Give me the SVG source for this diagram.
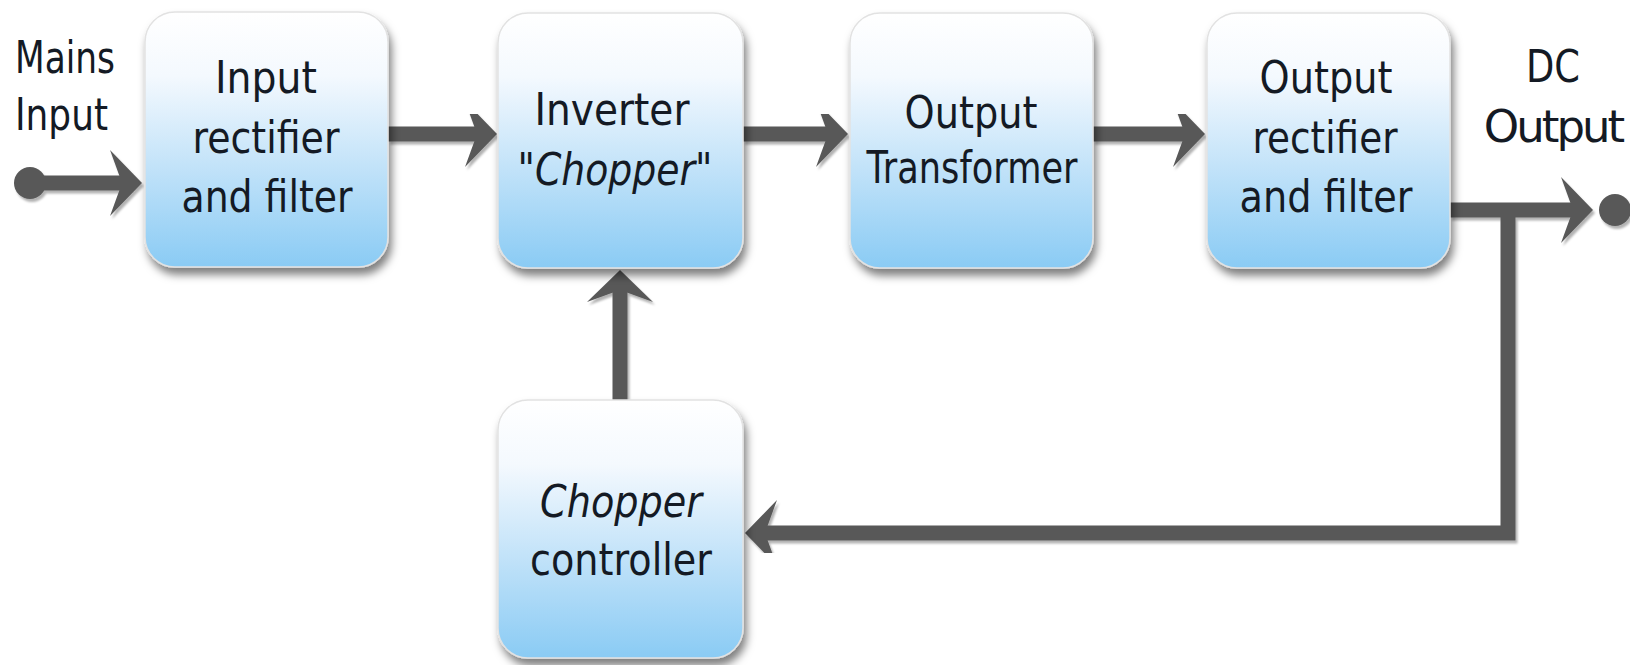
<svg xmlns="http://www.w3.org/2000/svg" width="1630" height="665" viewBox="0 0 1630 665">
  <defs>
    <linearGradient id="boxGrad" x1="0" y1="0" x2="0" y2="1">
      <stop offset="0" stop-color="#ffffff"/>
      <stop offset="0.25" stop-color="#f4f9fe"/>
      <stop offset="0.6" stop-color="#c3e3f9"/>
      <stop offset="1" stop-color="#8acbf4"/>
    </linearGradient>
    <filter id="boxShadow" x="-10%" y="-10%" width="125%" height="125%">
      <feDropShadow dx="3" dy="7" stdDeviation="4" flood-color="#000" flood-opacity="0.5"/>
    </filter>
    <filter id="lineShadow" x="-5%" y="-5%" width="110%" height="110%">
      <feDropShadow dx="2" dy="3" stdDeviation="1.2" flood-color="#000" flood-opacity="0.3"/>
    </filter>
    <marker id="head" markerUnits="userSpaceOnUse" viewBox="-34 -35 36 70" markerWidth="36" markerHeight="70" refX="-18" refY="0" orient="auto">
      <path d="M0,0 L-32,-33 L-20,0 L-32,33 Z" fill="#595959"/>
    </marker>
  </defs>
  <style>
    .box { fill: url(#boxGrad); stroke: #e2e2e2; stroke-width: 1.5; filter: url(#boxShadow); }
    .lbl { font-family: "DejaVu Sans", "Liberation Sans", sans-serif; font-size: 45px; fill: #141a24; text-anchor: middle; }
    .it { font-style: italic; }
    .side { text-anchor: start; }
    .wire { fill: none; stroke: #595959; stroke-width: 15; }
    .dot { fill: #595959; }
  </style>

  <g id="connectors" filter="url(#lineShadow)">
    <circle class="dot" cx="30" cy="183" r="16"/>
    <line class="wire" x1="30" y1="183" x2="124" y2="183" marker-end="url(#head)"/>
    <line class="wire" x1="388" y1="134" x2="479" y2="134" marker-end="url(#head)"/>
    <line class="wire" x1="743" y1="134" x2="830" y2="134" marker-end="url(#head)"/>
    <line class="wire" x1="1093" y1="134" x2="1187" y2="134" marker-end="url(#head)"/>
    <line class="wire" x1="1450" y1="210" x2="1575" y2="210" marker-end="url(#head)"/>
    <circle class="dot" cx="1615" cy="210" r="16"/>
    <polyline class="wire" stroke-width="13" points="1508,210 1508,533 763,533" marker-end="url(#head)"/>
    <line class="wire" stroke-width="13" x1="620" y1="400" x2="620" y2="288" marker-end="url(#head)"/>
  </g>

  <g id="mains-input">
    <text class="lbl side" x="15" y="73" textLength="100" lengthAdjust="spacingAndGlyphs">Mains</text>
    <text class="lbl side" x="15" y="130" textLength="93" lengthAdjust="spacingAndGlyphs">Input</text>
  </g>

  <g id="input-rectifier">
    <rect class="box" x="145" y="12" width="243" height="255" rx="30" ry="30"/>
    <text class="lbl" x="266" y="93" textLength="102" lengthAdjust="spacingAndGlyphs">Input</text>
    <text class="lbl" x="266" y="153" textLength="147" lengthAdjust="spacingAndGlyphs">rectifier</text>
    <text class="lbl" x="267" y="212" textLength="171" lengthAdjust="spacingAndGlyphs">and filter</text>
  </g>

  <g id="inverter">
    <rect class="box" x="498" y="13" width="245" height="255" rx="30" ry="30"/>
    <text class="lbl" x="612" y="125" textLength="155" lengthAdjust="spacingAndGlyphs">Inverter</text>
    <text class="lbl it" x="615" y="185" textLength="195" lengthAdjust="spacingAndGlyphs">"Chopper"</text>
  </g>

  <g id="output-transformer">
    <rect class="box" x="850" y="13" width="243" height="255" rx="30" ry="30"/>
    <text class="lbl" x="971" y="128" textLength="133" lengthAdjust="spacingAndGlyphs">Output</text>
    <text class="lbl" x="972" y="183" textLength="211" lengthAdjust="spacingAndGlyphs">Transformer</text>
  </g>

  <g id="output-rectifier">
    <rect class="box" x="1207" y="13" width="243" height="255" rx="30" ry="30"/>
    <text class="lbl" x="1326" y="93" textLength="133" lengthAdjust="spacingAndGlyphs">Output</text>
    <text class="lbl" x="1325" y="153" textLength="145" lengthAdjust="spacingAndGlyphs">rectifier</text>
    <text class="lbl" x="1326" y="212" textLength="173" lengthAdjust="spacingAndGlyphs">and filter</text>
  </g>

  <g id="dc-output">
    <text class="lbl" x="1553" y="82" textLength="54" lengthAdjust="spacingAndGlyphs">DC</text>
    <text class="lbl" x="1553" y="142" font-size="42" letter-spacing="-3">Output</text>
  </g>

  <g id="chopper-controller">
    <rect class="box" x="498" y="400" width="245" height="258" rx="30" ry="30"/>
    <text class="lbl it" x="621" y="517" textLength="162" lengthAdjust="spacingAndGlyphs">Chopper</text>
    <text class="lbl" x="621" y="575" textLength="182" lengthAdjust="spacingAndGlyphs">controller</text>
  </g>
</svg>
